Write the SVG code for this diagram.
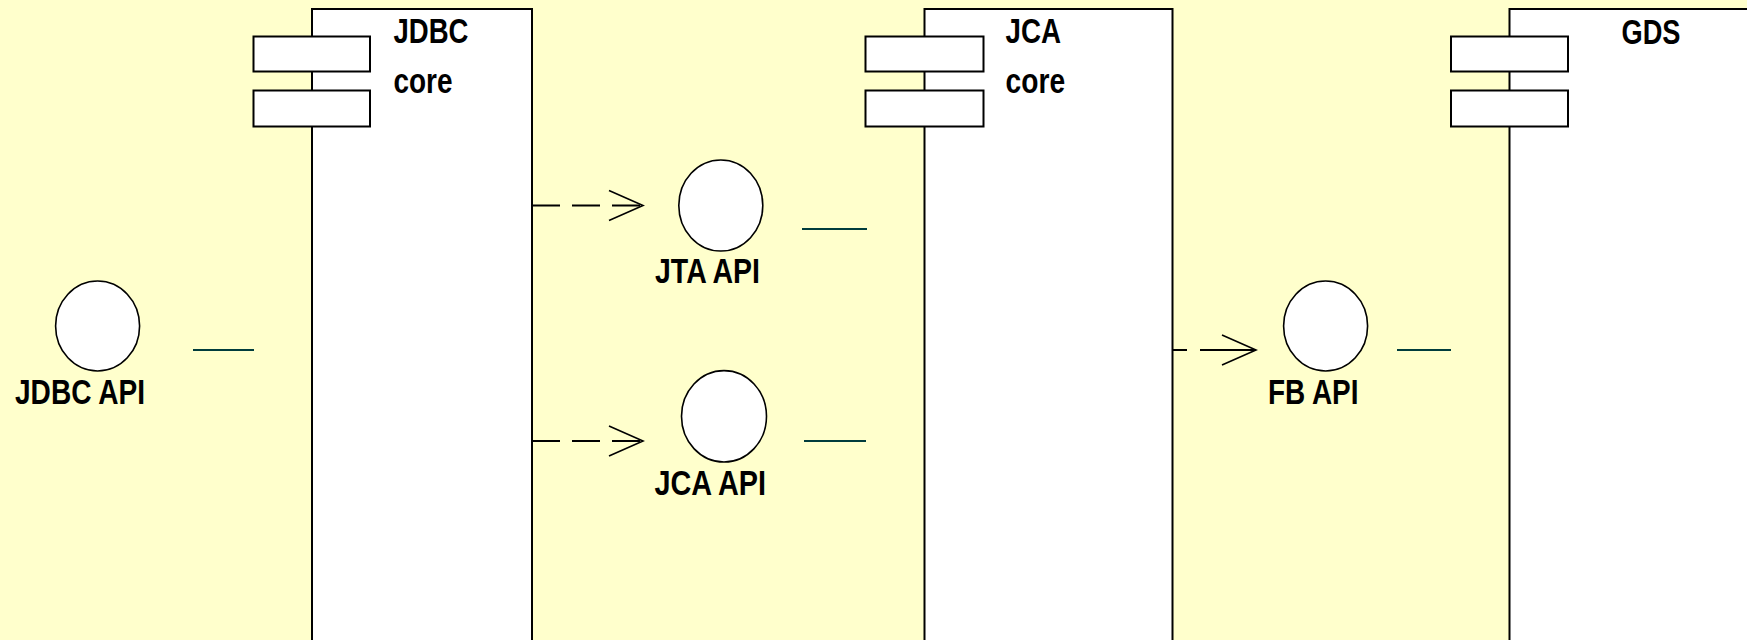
<svg xmlns="http://www.w3.org/2000/svg" width="1747" height="640" viewBox="0 0 1747 640">
<style>
.box{fill:#ffffff;stroke:#000000;stroke-width:2}
.port{fill:#ffffff;stroke:#000000;stroke-width:2}
.iface{fill:#ffffff;stroke:#000000;stroke-width:1.6}
.lbl{font-family:"Liberation Sans",Arial,sans-serif;font-weight:bold;font-size:35px;fill:#000000}
.real{stroke:#003c3c;stroke-width:2;fill:none}
.dep{stroke:#000000;stroke-width:2.2;fill:none}
.head{stroke:#000000;stroke-width:1.6;fill:none}
</style>
<rect x="0" y="0" width="1747" height="640" fill="#ffffcc"/>
<g id="jdbc-core">
<rect class="box" x="312" y="9" width="220" height="700"/>
<rect class="port" x="253.5" y="36.5" width="116.5" height="35"/>
<rect class="port" x="253.5" y="90.5" width="116.5" height="36"/>
<text class="lbl" x="393.5" y="43.3" textLength="75" lengthAdjust="spacingAndGlyphs">JDBC</text>
<text class="lbl" x="393.5" y="92.7" textLength="59" lengthAdjust="spacingAndGlyphs">core</text>
</g>
<g id="jca-core">
<rect class="box" x="924.5" y="9" width="248" height="700"/>
<rect class="port" x="865.5" y="36.5" width="118" height="35"/>
<rect class="port" x="865.5" y="90.5" width="118" height="36"/>
<text class="lbl" x="1005.6" y="43.3" textLength="55.5" lengthAdjust="spacingAndGlyphs">JCA</text>
<text class="lbl" x="1005.6" y="92.7" textLength="59.5" lengthAdjust="spacingAndGlyphs">core</text>
</g>
<g id="gds">
<rect class="box" x="1509.5" y="9" width="300" height="700"/>
<rect class="port" x="1451" y="36.5" width="117" height="35"/>
<rect class="port" x="1451" y="90.5" width="117" height="36"/>
<text class="lbl" x="1621.5" y="43.5" textLength="59" lengthAdjust="spacingAndGlyphs">GDS</text>
</g>
<g id="jdbc-api">
<ellipse class="iface" cx="97.6" cy="326" rx="42" ry="45"/>
<text class="lbl" x="15" y="404.3" textLength="130" lengthAdjust="spacingAndGlyphs">JDBC API</text>
</g>
<g id="jta-api">
<ellipse class="iface" cx="720.8" cy="205.5" rx="42" ry="45.5"/>
<text class="lbl" x="655" y="283.3" textLength="105" lengthAdjust="spacingAndGlyphs">JTA API</text>
</g>
<g id="jca-api">
<ellipse class="iface" cx="724" cy="416.3" rx="42.5" ry="45.7"/>
<text class="lbl" x="654.5" y="495" textLength="111.5" lengthAdjust="spacingAndGlyphs">JCA API</text>
</g>
<g id="fb-api">
<ellipse class="iface" cx="1325.6" cy="326" rx="42" ry="45"/>
<text class="lbl" x="1268" y="404.3" textLength="90.5" lengthAdjust="spacingAndGlyphs">FB API</text>
</g>
<g id="connectors">
<line class="real" x1="193" y1="350" x2="254" y2="350"/>
<line class="real" x1="802" y1="229" x2="867" y2="229"/>
<line class="real" x1="804" y1="441" x2="866" y2="441"/>
<line class="real" x1="1397" y1="350" x2="1451" y2="350"/>
<line class="dep" x1="532" y1="205.5" x2="643" y2="205.5" stroke-dasharray="28 12"/>
<polyline class="head" points="609,190.5 643,205.5 609,220.5"/>
<line class="dep" x1="532" y1="441" x2="643" y2="441" stroke-dasharray="28 12"/>
<polyline class="head" points="609,426 643,441 609,456"/>
<line class="dep" x1="1172" y1="350" x2="1256" y2="350" stroke-dasharray="15 13 56"/>
<polyline class="head" points="1222,335 1256,350 1222,365"/>
</g>
</svg>
